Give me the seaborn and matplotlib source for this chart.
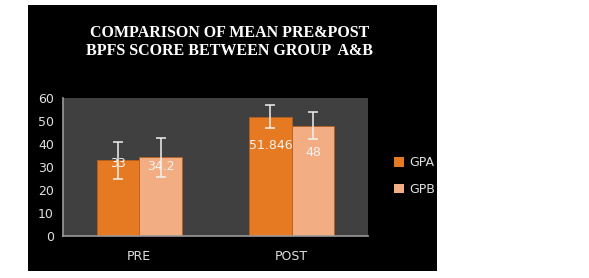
import matplotlib
matplotlib.use("Agg")
import matplotlib.pyplot as plt
import seaborn as sns
import pandas as pd
import numpy as np
from matplotlib.patches import Rectangle, Patch
from matplotlib.container import BarContainer

categories = ["PRE", "POST"]
groups = ["GPA", "GPB"]
gpa_values = [33, 51.846]
gpb_values = [34.2, 48]
gpa_err = [8, 5]
gpb_err = [8.5, 6]
value_labels_gpa = ["33", "51.846"]
value_labels_gpb = ["34.2", "48"]
yticks = [0, 10, 20, 30, 40, 50, 60]

df = pd.DataFrame({
    "phase": categories * 2,
    "group": [groups[0]] * 2 + [groups[1]] * 2,
    "score": gpa_values + gpb_values,
})

sns.set_style("white")
W, H = 589, 278
fig = plt.figure(figsize=(W / 100, H / 100), dpi=100, facecolor="white")
bg = fig.add_axes([28 / W, 1 - 271 / H, (437 - 28) / W, (271 - 5) / H])
bg.set_facecolor("black")
bg.set_xticks([])
bg.set_yticks([])
for s in bg.spines.values():
    s.set_visible(False)
bg.set_zorder(0)

ax = fig.add_axes([63 / W, 1 - 236 / H, 305 / W, 138 / H])
ax.set_zorder(1)
ax.set_facecolor("#404040")

palette = {"GPA": "#E57A22", "GPB": "#F2AE82"}
sns.barplot(data=df, x="phase", y="score", hue="group", order=categories,
            hue_order=groups, palette=palette, width=0.56, gap=0.0,
            saturation=1, errorbar=None, ax=ax, legend=False,
            edgecolor="#B85E1A", linewidth=0.6)

ax.set_xlim(-0.5, 1.5)
ax.set_ylim(0, 60)
ax.set_yticks(yticks)
ax.set_xlabel("")
ax.set_ylabel("")

containers = [c for c in ax.containers if isinstance(c, BarContainer)]
errs = [gpa_err, gpb_err]
vals = [gpa_values, gpb_values]
labels = [value_labels_gpa, value_labels_gpb]
label_offsets = [[-1.5, -12.5], [-4, -11.5]]
for ci, cont in enumerate(containers):
    xs = [p.get_x() + p.get_width() / 2 for p in cont.patches]
    ax.errorbar(xs, vals[ci], yerr=errs[ci], fmt="none", ecolor="#F0F0F0",
                elinewidth=1.1, capsize=3.5, capthick=1.1, zorder=5)
    for x, v, lab, off in zip(xs, vals[ci], labels[ci], label_offsets[ci]):
        ax.text(x, v + off, lab, ha="center", va="center", color="#F2F2F2",
                fontsize=9, zorder=6)

for s in ["top", "right"]:
    ax.spines[s].set_visible(False)
for s in ["left", "bottom"]:
    ax.spines[s].set_color("#9A9A9A")
    ax.spines[s].set_linewidth(1.2)
ax.tick_params(axis="both", colors="#9A9A9A", labelcolor="#E0E0E0",
               labelsize=9, direction="out", length=3, width=1)
ax.tick_params(axis="x", length=0, pad=10)

handles = [Patch(facecolor=palette[g], edgecolor="none") for g in groups]
leg = fig.legend(handles, groups, loc="center left",
                 bbox_to_anchor=(383 / W, 1 - 176 / H), frameon=False,
                 labelcolor="#E0E0E0", fontsize=9, handlelength=0.8,
                 handleheight=0.8, labelspacing=1.1, handletextpad=0.4)

fig.text(230 / W, 1 - 33 / H, "COMPARISON OF MEAN PRE&POST", ha="center",
         va="center", color="white", fontsize=11.5, fontweight="bold",
         family="Liberation Serif")
fig.text(230 / W, 1 - 51 / H, "BPFS SCORE BETWEEN GROUP  A&B", ha="center",
         va="center", color="white", fontsize=11.5, fontweight="bold",
         family="Liberation Serif")

fig.savefig("out.png", dpi=100, facecolor="white")
